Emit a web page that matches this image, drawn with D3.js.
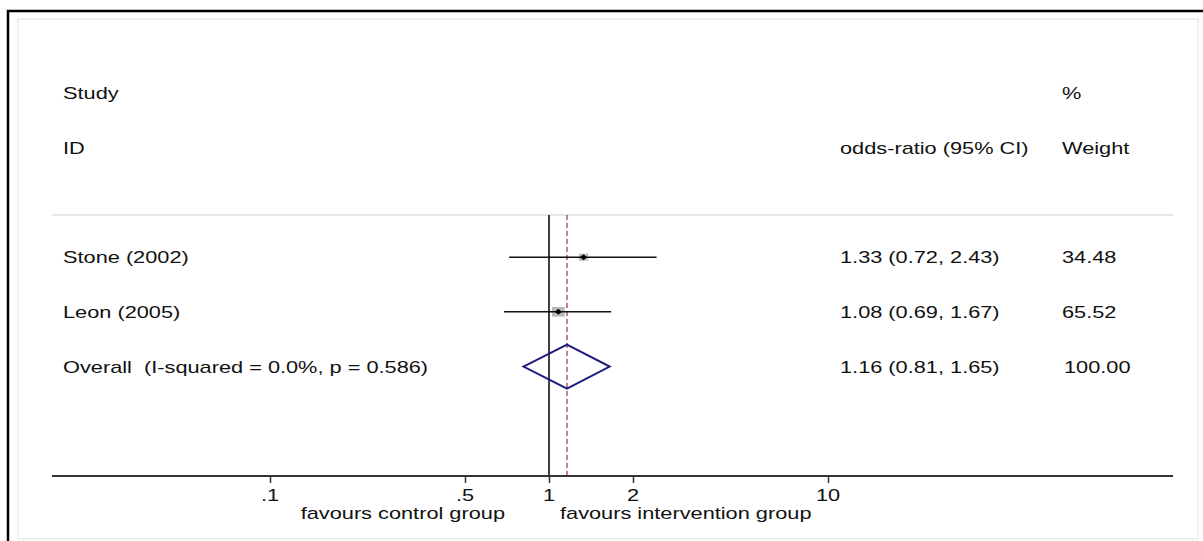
<!DOCTYPE html>
<html>
<head>
<meta charset="utf-8">
<script src="https://cdn.jsdelivr.net/npm/d3@7"></script>
<style>
  body { margin: 0; background: #fff; }
  svg text { font-family: "Liberation Sans", Arial, Helvetica, sans-serif; fill: #111; white-space: pre; }
</style>
</head>
<body>
<svg id="canvas" width="1203" height="541"></svg>
<script>
// study rows
let studies = ['Stone (2002)', 'Leon (2005)']
let estimates = [1.33, 1.08]
let lowerCI = [0.72, 0.69]
let upperCI = [2.43, 1.67]
let weights = [34.48, 65.52]

// pooled estimate
let overallLabel = 'Overall  (I-squared = 0.0%, p = 0.586)'
let overallEst = 1.16
let overallLow = 0.81
let overallHigh = 1.65
let overallWeight = '100.00'

let tickValues = [0.1, 0.5, 1, 2, 10]
let tickLabels = ['.1', '.5', '1', '2', '10']

let canvas = d3.select('#canvas')
let width = 1203
let height = 541
let fontSize = 17
let stretch = 1.28 // stata output is stretched sideways

// x: log scale for odds ratio, y: row index
let x = d3.scaleLog().domain([0.1, 10]).range([270, 828])
let y = d3.scaleLinear().domain([0, 7]).range([93, 476])
let axisLeft = 52, axisRight = 1173

let fmt = d3.format('.2f')
let ciText = (e, l, h) => fmt(e) + ' (' + fmt(l) + ', ' + fmt(h) + ')'

// frame
canvas.append('rect')
    .attr('x', 18).attr('y', 19)
    .attr('width', 1180).attr('height', 520)
    .attr('fill', 'white')
    .attr('stroke', '#e6edf1').attr('stroke-width', 1.5)
canvas.append('path')
    .attr('d', 'M8,541 V11 H1203')
    .attr('fill', 'none')
    .attr('stroke', 'black').attr('stroke-width', 2.5)

function label(txt, px, py, anchor) {
    canvas.append('text')
        .attr('transform', 'translate(' + px + ',' + py + ') scale(' + stretch + ',1)')
        .attr('dy', '0.35em')
        .attr('xml:space', 'preserve')
        .attr('text-anchor', anchor || 'start')
        .style('font-size', fontSize + 'px')
        .text(txt)
}

// headers
label('Study', 63, y(0))
label('ID', 63, y(1))
label('%', 1062, y(0))
label('odds-ratio (95% CI)', 840, y(1))
label('Weight', 1062, y(1))

// separator line under header
canvas.append('line')
    .attr('x1', axisLeft).attr('x2', axisRight)
    .attr('y1', 215).attr('y2', 215)
    .attr('stroke', '#cfcfcf').attr('stroke-width', 1.2)

// null line and overall line
canvas.append('line')
    .attr('x1', x(1)).attr('x2', x(1))
    .attr('y1', 215).attr('y2', y(7))
    .attr('stroke', 'black').attr('stroke-width', 1.5)
canvas.append('line')
    .attr('x1', x(overallEst)).attr('x2', x(overallEst))
    .attr('y1', 215).attr('y2', y(7))
    .attr('stroke', '#9b2d30').attr('stroke-width', 1.2)
    .attr('stroke-dasharray', '5,3')

let rows = studies.map((s, i) => ({
    name: s, est: estimates[i], lo: lowerCI[i], hi: upperCI[i], w: weights[i], row: i + 3
}))

let g = canvas.selectAll('g.study').data(rows).enter().append('g').attr('class', 'study')

// weight boxes
g.append('rect')
    .attr('x', d => x(d.est) - 0.78 * Math.sqrt(d.w))
    .attr('y', d => y(d.row) - 0.6 * Math.sqrt(d.w))
    .attr('width', d => 1.56 * Math.sqrt(d.w))
    .attr('height', d => 1.2 * Math.sqrt(d.w))
    .attr('fill', '#bababa')

g.append('line')
    .attr('x1', d => x(d.lo)).attr('x2', d => x(d.hi))
    .attr('y1', d => y(d.row)).attr('y2', d => y(d.row))
    .attr('stroke', '#111').attr('stroke-width', 1.5)

g.append('path')
    .attr('d', d => {
        let cx = x(d.est), cy = y(d.row)
        return 'M' + (cx - 3.5) + ',' + cy + 'L' + cx + ',' + (cy - 3) + 'L' + (cx + 3.5) + ',' + cy + 'L' + cx + ',' + (cy + 3) + 'Z'
    })
    .attr('fill', 'black')

rows.forEach(d => {
    label(d.name, 63, y(d.row))
    label(ciText(d.est, d.lo, d.hi), 840, y(d.row))
    label(fmt(d.w), 1062, y(d.row))
})

// overall diamond
let oy = y(5)
canvas.append('path')
    .attr('d', 'M' + x(overallLow) + ',' + oy +
        'L' + x(overallEst) + ',' + (oy - 22) +
        'L' + x(overallHigh) + ',' + oy +
        'L' + x(overallEst) + ',' + (oy + 22) + 'Z')
    .attr('fill', 'none')
    .attr('stroke', '#1c1c80').attr('stroke-width', 2)

label(overallLabel, 63, oy)
label(ciText(overallEst, overallLow, overallHigh), 840, oy)
label(overallWeight, 1064, oy)

// x axis
canvas.append('line')
    .attr('x1', axisLeft).attr('x2', axisRight)
    .attr('y1', y(7)).attr('y2', y(7))
    .attr('stroke', '#333').attr('stroke-width', 1.8)

let axis = canvas.append('g')
    .attr('transform', 'translate(0,' + y(7) + ')')
    .call(d3.axisBottom(x)
        .tickValues(tickValues)
        .tickFormat((d, i) => tickLabels[i])
        .tickSize(7)
        .tickSizeOuter(0))
axis.select('.domain').remove()
axis.selectAll('.tick line').attr('stroke', '#333').attr('stroke-width', 1.5)
axis.selectAll('.tick text').remove()

tickValues.forEach((v, i) => label(tickLabels[i], x(v), 495, 'middle'))

label('favours control group', x(1) - 44, 513, 'end')
label('favours intervention group', x(1) + 11, 513, 'start')
</script>
</body>
</html>
